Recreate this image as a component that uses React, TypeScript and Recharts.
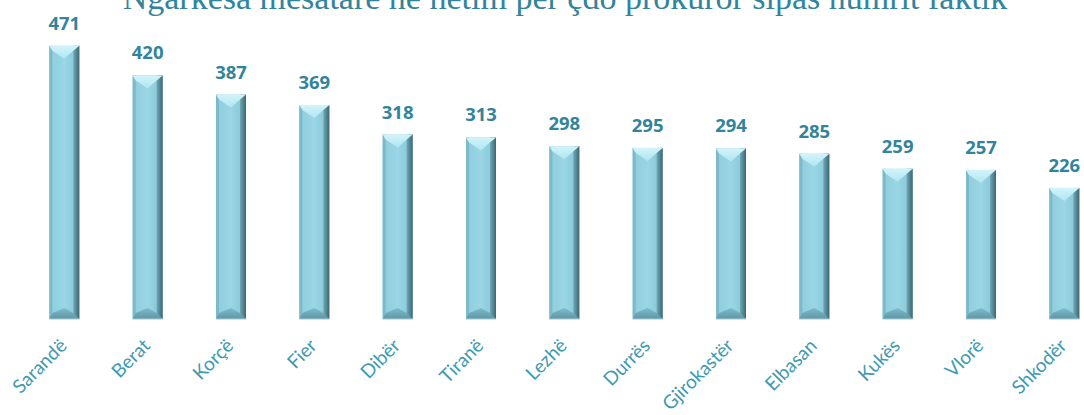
import React from "react";
import { BarChart, Bar, XAxis, YAxis, LabelList } from "recharts";

const categories = ["Sarandë", "Berat", "Korçë", "Fier", "Dibër", "Tiranë", "Lezhë", "Durrës", "Gjirokastër", "Elbasan", "Kukës", "Vlorë", "Shkodër"];
const values = [471, 420, 387, 369, 318, 313, 298, 295, 294, 285, 259, 257, 226];
const title = "Ngarkesa mesatare në hetim për çdo prokuror sipas numrit faktik";

const data = categories.map((name, i) => ({ name, value: values[i] }));

const BevelBar = (props: any) => {
  const { x, y, width: w, height: h } = props;
  if (h <= 0) return null;
  return (
    <g>
      <rect x={x} y={y} width={w} height={h} fill="url(#face)" />
      <rect x={x} y={y} width={3} height={h} fill="#7DB9C8" />
      <rect x={x + w - 6} y={y} width={6} height={h} fill="url(#rightEdge)" />
      <polygon points={`${x},${y + h} ${x + w},${y + h} ${x + w - 6},${y + h - 6} ${x + w / 2},${y + h - 11} ${x + 3},${y + h - 6}`} fill="url(#bottomBev)" />
      <polygon points={`${x},${y} ${x + w},${y} ${x + w - 6},${y + 5} ${x + w / 2},${y + 13} ${x + 3},${y + 5}`} fill="url(#topBev)" />
      <line x1={x} y1={y + h} x2={x + w} y2={y + h} stroke="#A8C8D0" strokeWidth={1} />
    </g>
  );
};

const Tick = (props: any) => {
  const { x, payload } = props;
  const ax = x + 4;
  const ay = 347;
  return (
    <text x={ax} y={ay} transform={`rotate(-45, ${ax}, ${ay})`} textAnchor="end" fill="#3E9AB1" fontSize={19} fontFamily="Lato, 'Open Sans', sans-serif">
      {payload.value}
    </text>
  );
};

const ValueLabel = (props: any) => {
  const { x, y, width, value } = props;
  return (
    <text x={x + width / 2} y={y - 16} textAnchor="middle" fill="#31849B" fontSize={18.5} fontWeight={700} fontFamily="'Open Sans', sans-serif">
      {value}
    </text>
  );
};

export default function App() {
  return (
    <div style={{ position: "absolute", left: 0, top: 0, width: 1084, height: 415, overflow: "hidden", background: "#fff" }}>
      <BarChart width={1110} height={415} data={data} margin={{ top: 29, right: 4.33, bottom: 0, left: 22.33 }} barSize={30}>
        <defs>
          <linearGradient id="face" x1="0" y1="0" x2="1" y2="0">
            <stop offset="0%" stopColor="#8FCDDC" />
            <stop offset="50%" stopColor="#9AD6E5" />
            <stop offset="100%" stopColor="#82C3D3" />
          </linearGradient>
          <linearGradient id="rightEdge" x1="0" y1="0" x2="1" y2="0">
            <stop offset="0%" stopColor="#6FA8B7" />
            <stop offset="100%" stopColor="#3C6773" />
          </linearGradient>
          <linearGradient id="topBev" x1="0" y1="0" x2="0" y2="1">
            <stop offset="0%" stopColor="#D2F4FA" />
            <stop offset="100%" stopColor="#B0E6F1" />
          </linearGradient>
          <linearGradient id="bottomBev" x1="0" y1="0" x2="0" y2="1">
            <stop offset="0%" stopColor="#7FBACA" />
            <stop offset="100%" stopColor="#5D98A7" />
          </linearGradient>
        </defs>
        <text x={565} y={9} textAnchor="middle" fill="#31849B" fontSize={34} fontFamily="'Liberation Serif', serif">
          {title}
        </text>
        <XAxis dataKey="name" axisLine={false} tickLine={false} height={96} interval={0} tick={<Tick />} />
        <YAxis hide domain={[0, 500]} />
        <Bar dataKey="value" shape={<BevelBar />} isAnimationActive={false}>
          <LabelList dataKey="value" content={<ValueLabel />} />
        </Bar>
      </BarChart>
    </div>
  );
}
